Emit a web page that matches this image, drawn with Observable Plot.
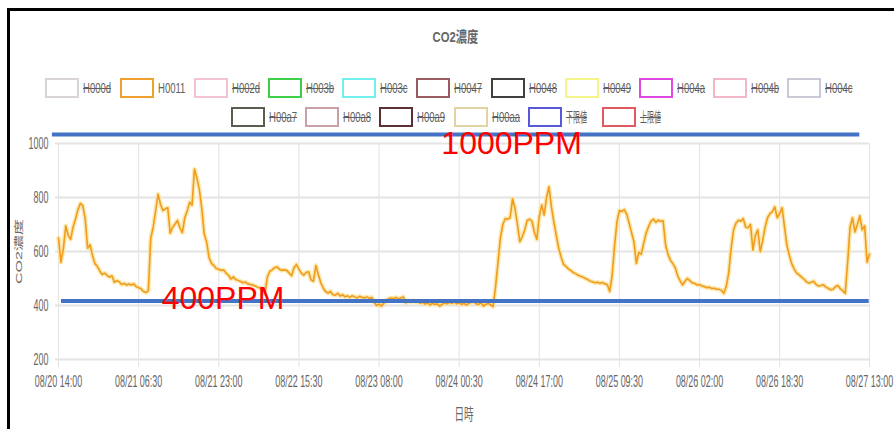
<!DOCTYPE html>
<html><head><meta charset="utf-8">
<script src="https://cdn.jsdelivr.net/npm/d3@7"></script>
<script src="https://cdn.jsdelivr.net/npm/@observablehq/plot@0.6"></script>
<style>
html,body{margin:0;padding:0;background:#fff;}
#wrap{position:relative;width:894px;height:429px;overflow:hidden;background:#fff;font-family:"Liberation Sans","Noto Sans CJK TC",sans-serif;color:#666;}
#frame{position:absolute;left:7px;top:8px;width:1000px;height:1000px;border-left:3px solid #000;border-top:3px solid #000;box-sizing:border-box;}
#title{position:absolute;left:355px;width:200px;top:28px;height:18px;line-height:18px;text-align:center;font-weight:bold;font-size:15px;color:#666;}
#title span{display:inline-block;transform:scaleX(0.75);}
.item{position:absolute;height:20px;display:flex;align-items:center;}
.box{width:34px;height:20px;box-sizing:border-box;border:2px solid;flex:none;background:#fff;}
.lab{margin-left:4px;font-size:14px;line-height:9px;white-space:nowrap;display:inline-block;transform-origin:left center;color:#5f5f5f;}
.off{text-decoration:line-through;}
#chart{position:absolute;left:0;top:0;}
</style></head>
<body><div id="wrap"><div id="frame"></div><div id="title"><span>CO2濃度</span></div><div id="legend"></div><div id="chart"></div></div>
<script>
// ---- data ----
const year = "2020";
const seriesStart = "08/20 14:00";       // first reading
const seriesStepMinutes = 30;            // one reading every 30 minutes
// H0011 CO2 readings (ppm), 08/20 14:00 .. 08/27 13:00
const co2ppm = [
  650,560,610,695,660,645,690,720,755,778,
  770,720,612,625,585,555,545,528,515,520,
  512,505,510,486,492,488,478,482,476,480,
  476,480,470,466,462,452,448,455,650,690,
  750,812,775,752,758,762,668,690,702,715,
  688,670,725,750,782,772,905,872,830,760,
  665,636,578,556,548,537,534,530,532,520,
  512,498,506,496,493,489,484,487,480,478,
  476,472,468,465,458,445,505,526,532,540,
  543,534,530,532,530,520,510,540,552,535,
  520,512,522,525,495,490,548,515,485,465,
  452,446,452,440,438,445,435,440,432,436,
  430,436,432,428,434,430,428,432,426,430,
  412,400,405,398,408,420,425,428,426,430,
  424,428,432,410,418,414,418,412,415,408,
  412,405,410,402,408,404,406,398,404,410,
  406,412,408,414,406,410,404,408,402,408,
  412,416,406,404,410,398,404,408,402,396,
  470,560,650,700,722,720,725,795,760,700,
  636,655,680,715,720,712,670,645,730,772,
  735,800,840,765,710,660,612,580,552,545,
  535,530,522,518,512,508,505,500,496,490,
  488,484,486,482,485,480,478,452,510,620,
  710,752,748,755,738,705,670,635,556,597,
  590,630,668,692,712,720,708,716,712,714,
  625,590,568,555,540,510,492,476,490,500,
  492,484,482,476,478,472,470,466,468,463,
  464,460,460,456,445,470,520,610,680,705,
  716,712,722,690,688,700,605,660,680,600,
  640,690,725,740,748,765,725,740,762,690,
  622,585,554,535,520,514,505,498,488,483,
  486,490,478,472,474,477,468,464,458,460,
  470,474,462,455,445,560,690,725,672,700,
  732,680,695,560,590
];
const xTickLabels = ["08/20 14:00","08/21 06:30","08/21 23:00","08/22 15:30","08/23 08:00","08/24 00:30","08/24 17:00","08/25 09:30","08/26 02:00","08/26 18:30","08/27 13:00"];
const yTicks = [200, 400, 600, 800, 1000];
// legend
const seriesNames  = ["H000d","H0011","H002d","H003b","H003c","H0047","H0048","H0049","H004a","H004b","H004c","H00a7","H00a8","H00a9","H00aa","下限値","上限値"];
const seriesColors = ["#d8d4d6","#f0a030","#f2c4d2","#3fd04a","#70f0ea","#9a5a5e","#404040","#f4f48a","#e048e0","#f2b8c8","#cacad6","#5c5c50","#c8a0a8","#5c3034","#e2d2a4","#5858d8","#e05a60"];
const visibleSeries = ["H0011"];
const legendRowCounts = [11, 6];
// hand-drawn limit annotations
const limitValues = [1033, 417];
const limitFrom   = ["08/20 12:45", "08/20 14:37"];
const limitTo     = ["08/27 11:00", "08/27 12:56"];
const noteLabels  = ["1000PPM", "400PPM"];
const noteTimes   = ["08/23 20:50", "08/21 11:15"];
const noteValues  = [998, 426];

// ---- build ----
const parseT = d3.utcParse("%Y/%m/%d %H:%M");
const toDate = s => parseT(year + "/" + s);
const t0 = toDate(seriesStart);
const data = co2ppm.map((v, i) => ({time: new Date(+t0 + i * seriesStepMinutes * 60000), value: v}));
const xTicks = xTickLabels.map(toDate);
const limits = limitValues.map((v, i) => ({value: v, from: toDate(limitFrom[i]), to: toDate(limitTo[i])}));
const notes = noteLabels.map((l, i) => ({label: l, time: toDate(noteTimes[i]), value: noteValues[i]}));

const FONT = "'Liberation Sans','Noto Sans CJK TC',sans-serif";
const chart = Plot.plot({
  width: 894, height: 429,
  marginLeft: 58, marginRight: 25, marginTop: 143, marginBottom: 70,
  style: {background: "transparent", color: "#666", fontFamily: FONT, fontSize: "16px", overflow: "visible"},
  x: {type: "utc", domain: [xTicks[0], xTicks[xTicks.length - 1]], ticks: xTicks,
      tickFormat: d3.utcFormat("%m/%d %H:%M"), tickSize: 8, tickPadding: 8,
      label: "日時", labelAnchor: "center", labelOffset: 60, labelArrow: "none"},
  y: {domain: [200, 1000], ticks: yTicks, tickFormat: d3.format("d"), tickSize: 3, tickPadding: 7,
      label: "CO2濃度", labelAnchor: "center", labelOffset: 43, labelArrow: "none"},
  marks: [
    Plot.ruleY(yTicks, {stroke: "#e4e4e4", strokeWidth: 2}),
    Plot.ruleX(xTicks, {stroke: "#e6e6e6", strokeWidth: 1.2}),
    Plot.line(data, {x: "time", y: "value", stroke: "#fbe3a0", strokeWidth: 4.5, strokeOpacity: 0.85}),
    Plot.line(data, {x: "time", y: "value", stroke: "#ef9d1e", strokeWidth: 1.6}),
    Plot.ruleY(limits, {y: "value", x1: "from", x2: "to", stroke: "#4472c4", strokeWidth: 4}),
    Plot.text(notes, {x: "time", y: "value", text: "label", fill: "#ff0000", fontSize: 32,
      fontFamily: "'Liberation Sans'", textAnchor: "start", lineAnchor: "middle"})
  ]
});
document.getElementById("chart").appendChild(chart);

// narrow (horizontally compressed) axis text as in the reference
function squish(sel, sx, sy) {
  chart.querySelectorAll(sel).forEach(t => {
    const tr = t.getAttribute("transform") || "";
    t.setAttribute("transform", (tr + ` scale(${sx},${sy})`).trim());
  });
}
squish('g[aria-label="x-axis tick label"] text', 0.56, 1);
squish('g[aria-label="y-axis tick label"] text', 0.56, 1);
squish('g[aria-label="x-axis label"] text', 0.6, 1);
squish('g[aria-label="y-axis label"] text', 1, 0.6);
chart.querySelectorAll('g[aria-label="x-axis tick"], g[aria-label="y-axis tick"]').forEach(g => {
  g.setAttribute("stroke", "#e2e2e2");
});
chart.querySelectorAll('g[aria-label="y-axis tick"]').forEach(g => g.setAttribute("stroke-width", "2"));

// legend (Chart.js style)
const legend = document.getElementById("legend");
const rowTops = [78, 107];
const step = 74.2, center = 448.5;
let k = 0;
legendRowCounts.forEach((n, r) => {
  const start = center - (n * step - 10) / 2;
  for (let i = 0; i < n; i++, k++) {
    const name = seriesNames[k], col = seriesColors[k];
    const item = document.createElement("div");
    item.className = "item";
    item.style.left = (start + i * step) + "px";
    item.style.top = rowTops[r] + "px";
    const box = document.createElement("div");
    box.className = "box";
    box.style.borderColor = col;
    const lab = document.createElement("span");
    lab.className = "lab" + (visibleSeries.includes(name) ? "" : " off");
    lab.textContent = name;
    lab.style.transform = /[\u4e00-\u9fff]/.test(name) ? "scaleX(0.5)" : "scaleX(0.68)";
    item.appendChild(box); item.appendChild(lab);
    legend.appendChild(item);
  }
});
</script>
</body></html>
